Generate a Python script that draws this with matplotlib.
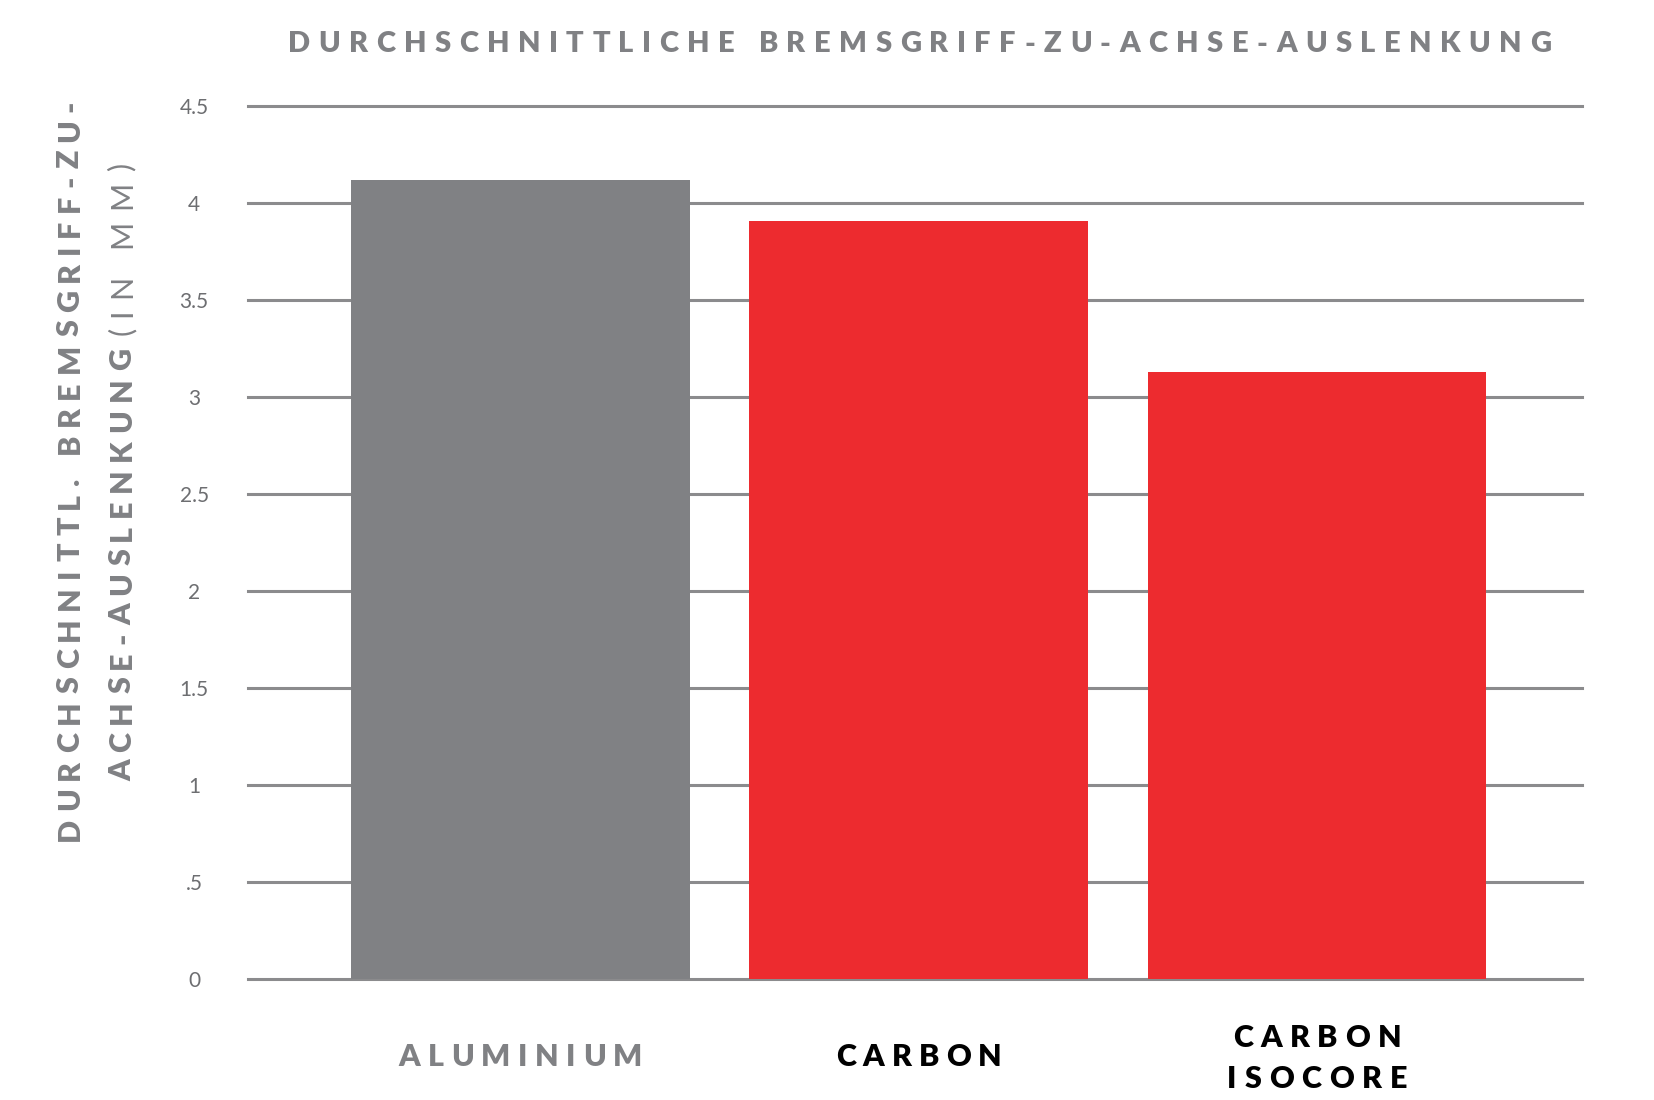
import matplotlib
matplotlib.use('Agg')
import matplotlib.pyplot as plt
from matplotlib.transforms import IdentityTransform

# Data
categories = ['ALUMINIUM', 'CARBON', 'CARBON\nISOCORE']
values = [4.12, 3.91, 3.13]
bar_colors = ['#808184', '#ed2b2f', '#ed2b2f']
label_colors = ['#808184', '#000000', '#000000']
yticks = [0, 0.5, 1, 1.5, 2, 2.5, 3, 3.5, 4, 4.5]
ytick_labels = ['0', '.5', '1', '1.5', '2', '2.5', '3', '3.5', '4', '4.5']

title = 'DURCHSCHNITTLICHE BREMSGRIFF-ZU-ACHSE-AUSLENKUNG'
ylabel_line1 = 'DURCHSCHNITTL. BREMSGRIFF-ZU-'
ylabel_line2_bold = 'ACHSE-AUSLENKUNG'
ylabel_line2_light = '(IN MM)'

GRAY = '#808184'
FONT = ['Lato', 'DejaVu Sans']
HEAVY = 'heavy'

W, H = 1654, 1100
fig = plt.figure(figsize=(W / 100, H / 100), dpi=100)
ax = fig.add_axes([0.15012, 0.1100, 0.80617, 0.79336])

x = list(range(len(categories)))
ax.bar(x, values, width=0.85, color=bar_colors, zorder=3)

# Gridlines (drawn unclipped so the top one is full width)
for yv in yticks:
    ax.axhline(yv, color='#8b8b8d', linewidth=2.2, zorder=1, clip_on=False)

ax.set_xlim(-0.683, 2.664)
ax.set_ylim(0, 4.5)
for s in ax.spines.values():
    s.set_visible(False)
ax.set_xticks([])
ax.set_yticks(yticks)
ax.set_yticklabels(ytick_labels, fontsize=15, color='#6d6e71',
                   family=FONT, fontweight='normal')
ax.tick_params(axis='y', length=0, pad=39)
for lab in ax.get_yticklabels():
    lab.set_horizontalalignment('center')


def tracked(px, py, s, size, target, color, weight=HEAVY, anchor='center',
            vertical=False):
    """Draw text char by char in pixel coords, spreading it to `target` px."""
    r = fig.canvas.get_renderer()
    arts, widths = [], []
    for ch in s:
        t = fig.text(0, 0, ch, transform=IdentityTransform(), fontsize=size,
                     fontweight=weight, color=color, family=FONT,
                     ha='left', va='baseline')
        if ch == ' ':
            w = size * 0.25 * 100 / 72
        else:
            w = t.get_window_extent(r).width
        arts.append(t)
        widths.append(w)
    track = (target - sum(widths)) / max(len(s) - 1, 1)
    pos = {'left': 0, 'center': -target / 2, 'right': -target}[anchor]
    for t, w in zip(arts, widths):
        if vertical:
            t.set_rotation(90)
            t.set_rotation_mode('anchor')
            t.set_position((px, py + pos))
        else:
            t.set_position((px + pos, py))
        pos += w + track


# Title
tracked(919.5, H - 52.5, title, 21, 1263, GRAY)

# Y label, two lines rotated
tracked(79, H - 841, ylabel_line1, 22, 741, GRAY, anchor='left', vertical=True)
tracked(131, H - 781, ylabel_line2_bold, 22, 433, GRAY, anchor='left', vertical=True)
tracked(131, H - 335, ylabel_line2_light, 22, 172, GRAY, weight='normal',
        anchor='left', vertical=True)

# Category labels under the bars
fig.canvas.draw()
label_targets = [[244], [166], [169, 180]]
for i, (cat, col, tg) in enumerate(zip(categories, label_colors, label_targets)):
    cx = ax.transData.transform((x[i], 0))[0]
    lines = cat.split('\n')
    if len(lines) == 1:
        tracked(cx, H - 1066, lines[0], 22, tg[0], col)
    else:
        tracked(cx, H - 1047, lines[0], 22, tg[0], col)
        tracked(cx, H - 1087.5, lines[1], 22, tg[1], col)

fig.savefig('out.png', dpi=100)
